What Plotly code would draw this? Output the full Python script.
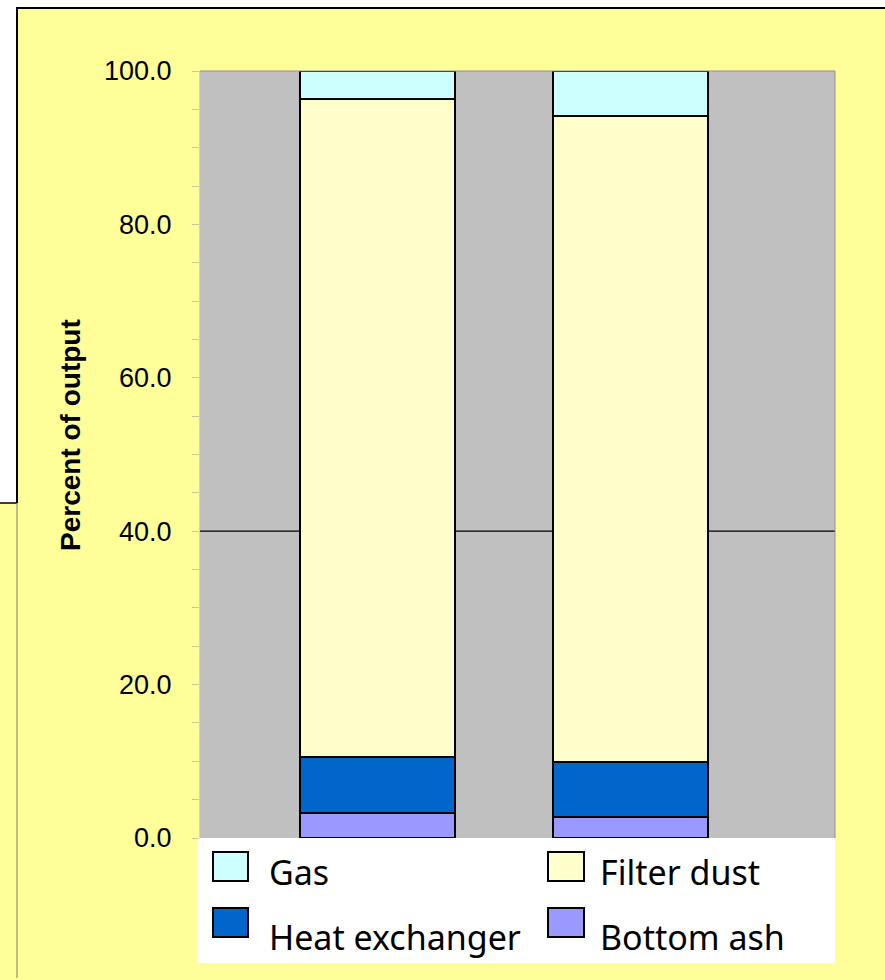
import plotly.graph_objects as go

# ---- data ----
categories = ["1", "2"]
series_names = ["Bottom ash", "Heat exchanger", "Filter dust", "Gas"]
bottom_ash = [3.2, 2.7]
heat_exchanger = [7.3, 7.2]
filter_dust = [85.9, 84.2]
gas = [3.6, 5.9]
series_colors = ["#9999FF", "#0066CC", "#FFFFCC", "#CCFFFF"]
y_tickvals = [0, 20, 40, 60, 80, 100]
y_ticktext = ["0.0", "20.0", "40.0", "60.0", "80.0", "100.0"]

W, H = 885, 980
L, R, T, B = 200, 50, 71, 142
PW, PH = W - L - R, H - T - B


def px(x):
    return (x - L) / PW


def py(y):
    return (H - B - y) / PH


fig = go.Figure()
values = [bottom_ash, heat_exchanger, filter_dust, gas]
for name, vals, col in zip(series_names, values, series_colors):
    fig.add_trace(go.Bar(
        x=[0, 1], y=vals, name=name, width=0.615,
        marker=dict(color=col, line=dict(color="black", width=2.2)),
        showlegend=False, hoverinfo="skip",
    ))

shapes = []
# white areas outside the yellow chart
shapes.append(dict(type="rect", xref="paper", yref="paper", x0=px(0), x1=px(W), y0=py(0), y1=py(8),
                   fillcolor="white", line=dict(width=0), layer="below"))
shapes.append(dict(type="rect", xref="paper", yref="paper", x0=px(0), x1=px(17), y0=py(0), y1=py(503),
                   fillcolor="white", line=dict(width=0), layer="below"))
# border lines
shapes.append(dict(type="line", xref="paper", yref="paper", x0=px(16), x1=px(W), y0=py(8), y1=py(8),
                   line=dict(color="black", width=2), layer="below"))
shapes.append(dict(type="line", xref="paper", yref="paper", x0=px(17), x1=px(17), y0=py(8), y1=py(503),
                   line=dict(color="black", width=2), layer="below"))
shapes.append(dict(type="line", xref="paper", yref="paper", x0=px(0), x1=px(17), y0=py(503), y1=py(503),
                   line=dict(color="black", width=1.5), layer="below"))
shapes.append(dict(type="line", xref="paper", yref="paper", x0=px(17), x1=px(17), y0=py(503), y1=py(978),
                   line=dict(color="#808060", width=1), layer="below"))
# legend box
shapes.append(dict(type="rect", xref="paper", yref="paper", x0=px(198), x1=px(835), y0=py(838), y1=py(963),
                   fillcolor="white", line=dict(width=0), layer="below"))
# plot frame (top/right gray)
shapes.append(dict(type="line", xref="paper", yref="paper", x0=0, x1=1, y0=1, y1=1,
                   line=dict(color="#909090", width=1), layer="above"))
shapes.append(dict(type="line", xref="paper", yref="paper", x0=1, x1=1, y0=0, y1=1,
                   line=dict(color="#909090", width=1), layer="above"))
# single gridline at 40
shapes.append(dict(type="line", xref="x", yref="y", x0=-0.706, x1=1.813, y0=40, y1=40,
                   line=dict(color="black", width=1.3), layer="between"))

# manual legend
legend_order = ["Gas", "Filter dust", "Heat exchanger", "Bottom ash"]
sw_x = [(213, 248), (548, 584)]
sw_y = [(852, 881), (908, 937)]
txt_x = [267, 598]
txt_y = [872, 937]
annotations = []
for i, nm in enumerate(legend_order):
    c, r = i % 2, i // 2
    col = series_colors[series_names.index(nm)]
    shapes.append(dict(type="rect", xref="paper", yref="paper",
                       x0=px(sw_x[c][0]), x1=px(sw_x[c][1]), y0=py(sw_y[r][0]), y1=py(sw_y[r][1]),
                       fillcolor=col, line=dict(color="black", width=2), layer="above"))
    annotations.append(dict(xref="paper", yref="paper", x=px(txt_x[c]), y=py(txt_y[r]),
                            xanchor="left", yanchor="middle", text=nm, showarrow=False,
                            font=dict(family="Noto Sans", size=34, color="black")))

annotations.append(dict(xref="paper", yref="paper", x=px(71), y=py(435), xanchor="center", yanchor="middle",
                        text="<b>Percent of output</b>", textangle=-90, showarrow=False,
                        font=dict(family="Liberation Sans, Arial", size=28, color="black")))

fig.update_layout(
    width=W, height=H,
    margin=dict(l=L, r=R, t=T, b=B, pad=0),
    paper_bgcolor="#FFFF99",
    plot_bgcolor="#C0C0C0",
    barmode="stack",
    bargap=0,
    shapes=shapes,
    annotations=annotations,
    xaxis=dict(range=[-0.706, 1.813], showticklabels=False, showgrid=False, zeroline=False,
               ticks="", showline=False, fixedrange=True),
    yaxis=dict(range=[0, 100], tickvals=y_tickvals, ticktext=y_ticktext,
               ticks="outside", ticklen=7, tickcolor="#C8C890", tickwidth=1,
               minor=dict(dtick=5, ticks="outside", ticklen=7, tickcolor="#C8C890", showgrid=False),
               showgrid=False, zeroline=False, showline=True, linecolor="#D8D8A0", linewidth=1,
               ticklabelstandoff=15, fixedrange=True,
               tickfont=dict(family="Liberation Sans, Arial", size=27, color="black")),
    showlegend=False,
)

fig.write_html("out.html", config={"displayModeBar": False},
               post_script="document.body.style.margin='0px';document.body.style.overflow='hidden';")
